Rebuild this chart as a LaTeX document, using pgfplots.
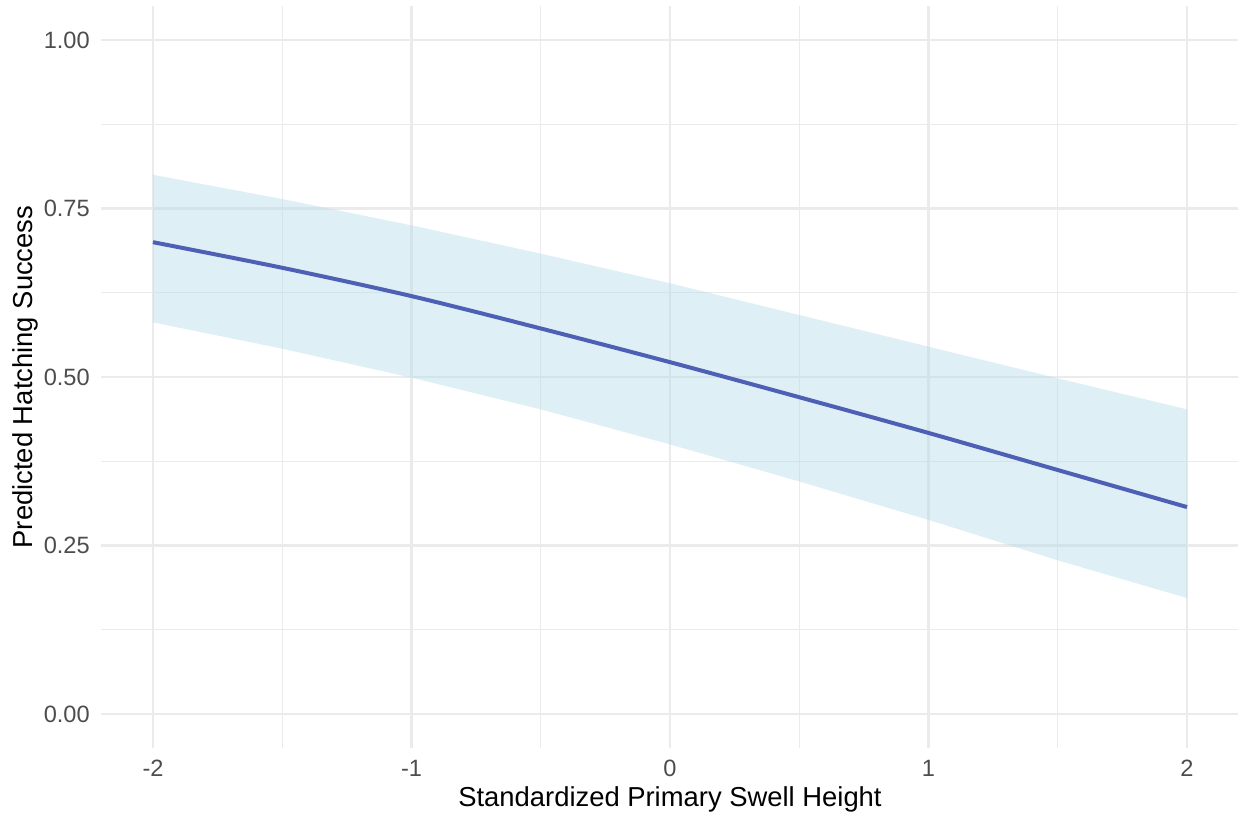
\documentclass[border=0pt]{standalone}
\usepackage{fontspec}
\setmainfont{Liberation Sans}
\usepackage{pgfplots}
\pgfplotsset{compat=1.18}
\definecolor{gridc}{RGB}{235,235,235}
\definecolor{tickc}{RGB}{77,77,77}
\definecolor{linec}{RGB}{78,96,181}
\definecolor{bandc}{RGB}{173,216,230}
\begin{document}
\begin{tikzpicture}
\begin{axis}[
  name=ax,
  scale only axis,
  width=568.7pt, height=370.7pt,
  xmin=-2.2, xmax=2.2, ymin=-0.05, ymax=1.05,
  axis line style={draw=none},
  xtick={-2,-1,0,1,2},
  xticklabels={-2,-1,0,1,2},
  ytick={0,0.25,0.5,0.75,1},
  yticklabels={0.00,0.25,0.50,0.75,1.00},
  minor xtick={-1.5,-0.5,0.5,1.5},
  minor ytick={0.125,0.375,0.625,0.875},
  major tick length=0pt, minor tick length=0pt,
  tick style={draw=none},
  grid=both,
  major grid style={gridc, line width=1.1pt},
  minor grid style={gridc, line width=0.55pt},
  xticklabel style={font=\fontsize{11.8}{13}\selectfont, text=tickc, inner sep=0pt, anchor=north, yshift=-6.0pt},
  yticklabel style={font=\fontsize{11.8}{13}\selectfont, text=tickc, inner sep=0pt, anchor=east, xshift=-5.6pt},
  xlabel={Standardized Primary Swell Height},
  ylabel={Predicted Hatching Success},
  xlabel style={font=\fontsize{13.7}{16}\selectfont, inner sep=0pt, at={(rel axis cs:0.5,0)}, anchor=base, yshift=-29.2pt},
  ylabel style={font=\fontsize{13.7}{16}\selectfont, inner sep=0pt, at={(rel axis cs:0,0.5)}, anchor=base, yshift=34.2pt},
  clip=true,
]
\addplot[draw=none, fill=bandc, fill opacity=0.4] coordinates {
  (-2,0.800) (-1.5,0.764) (-1,0.725) (-0.5,0.683) (0,0.639) (0.5,0.592) (1,0.545) (1.5,0.498) (2,0.452)
  (2,0.172) (1.5,0.228) (1,0.288) (0.5,0.345) (0,0.400) (-0.5,0.452) (-1,0.499) (-1.5,0.542) (-2,0.581)
} -- cycle;
\addplot[linec, line width=2pt, no marks, smooth] coordinates {
  (-2,0.700) (-1.5,0.662) (-1,0.620) (-0.5,0.572) (0,0.522) (0.5,0.470) (1,0.417) (1.5,0.362) (2,0.307)
};
\end{axis}
\pgfresetboundingbox
\path ([shift={(-50.65pt,-32.65pt)}]ax.south west) rectangle ([shift={(-0.35pt,3.15pt)}]ax.north east);
\end{tikzpicture}
\end{document}
